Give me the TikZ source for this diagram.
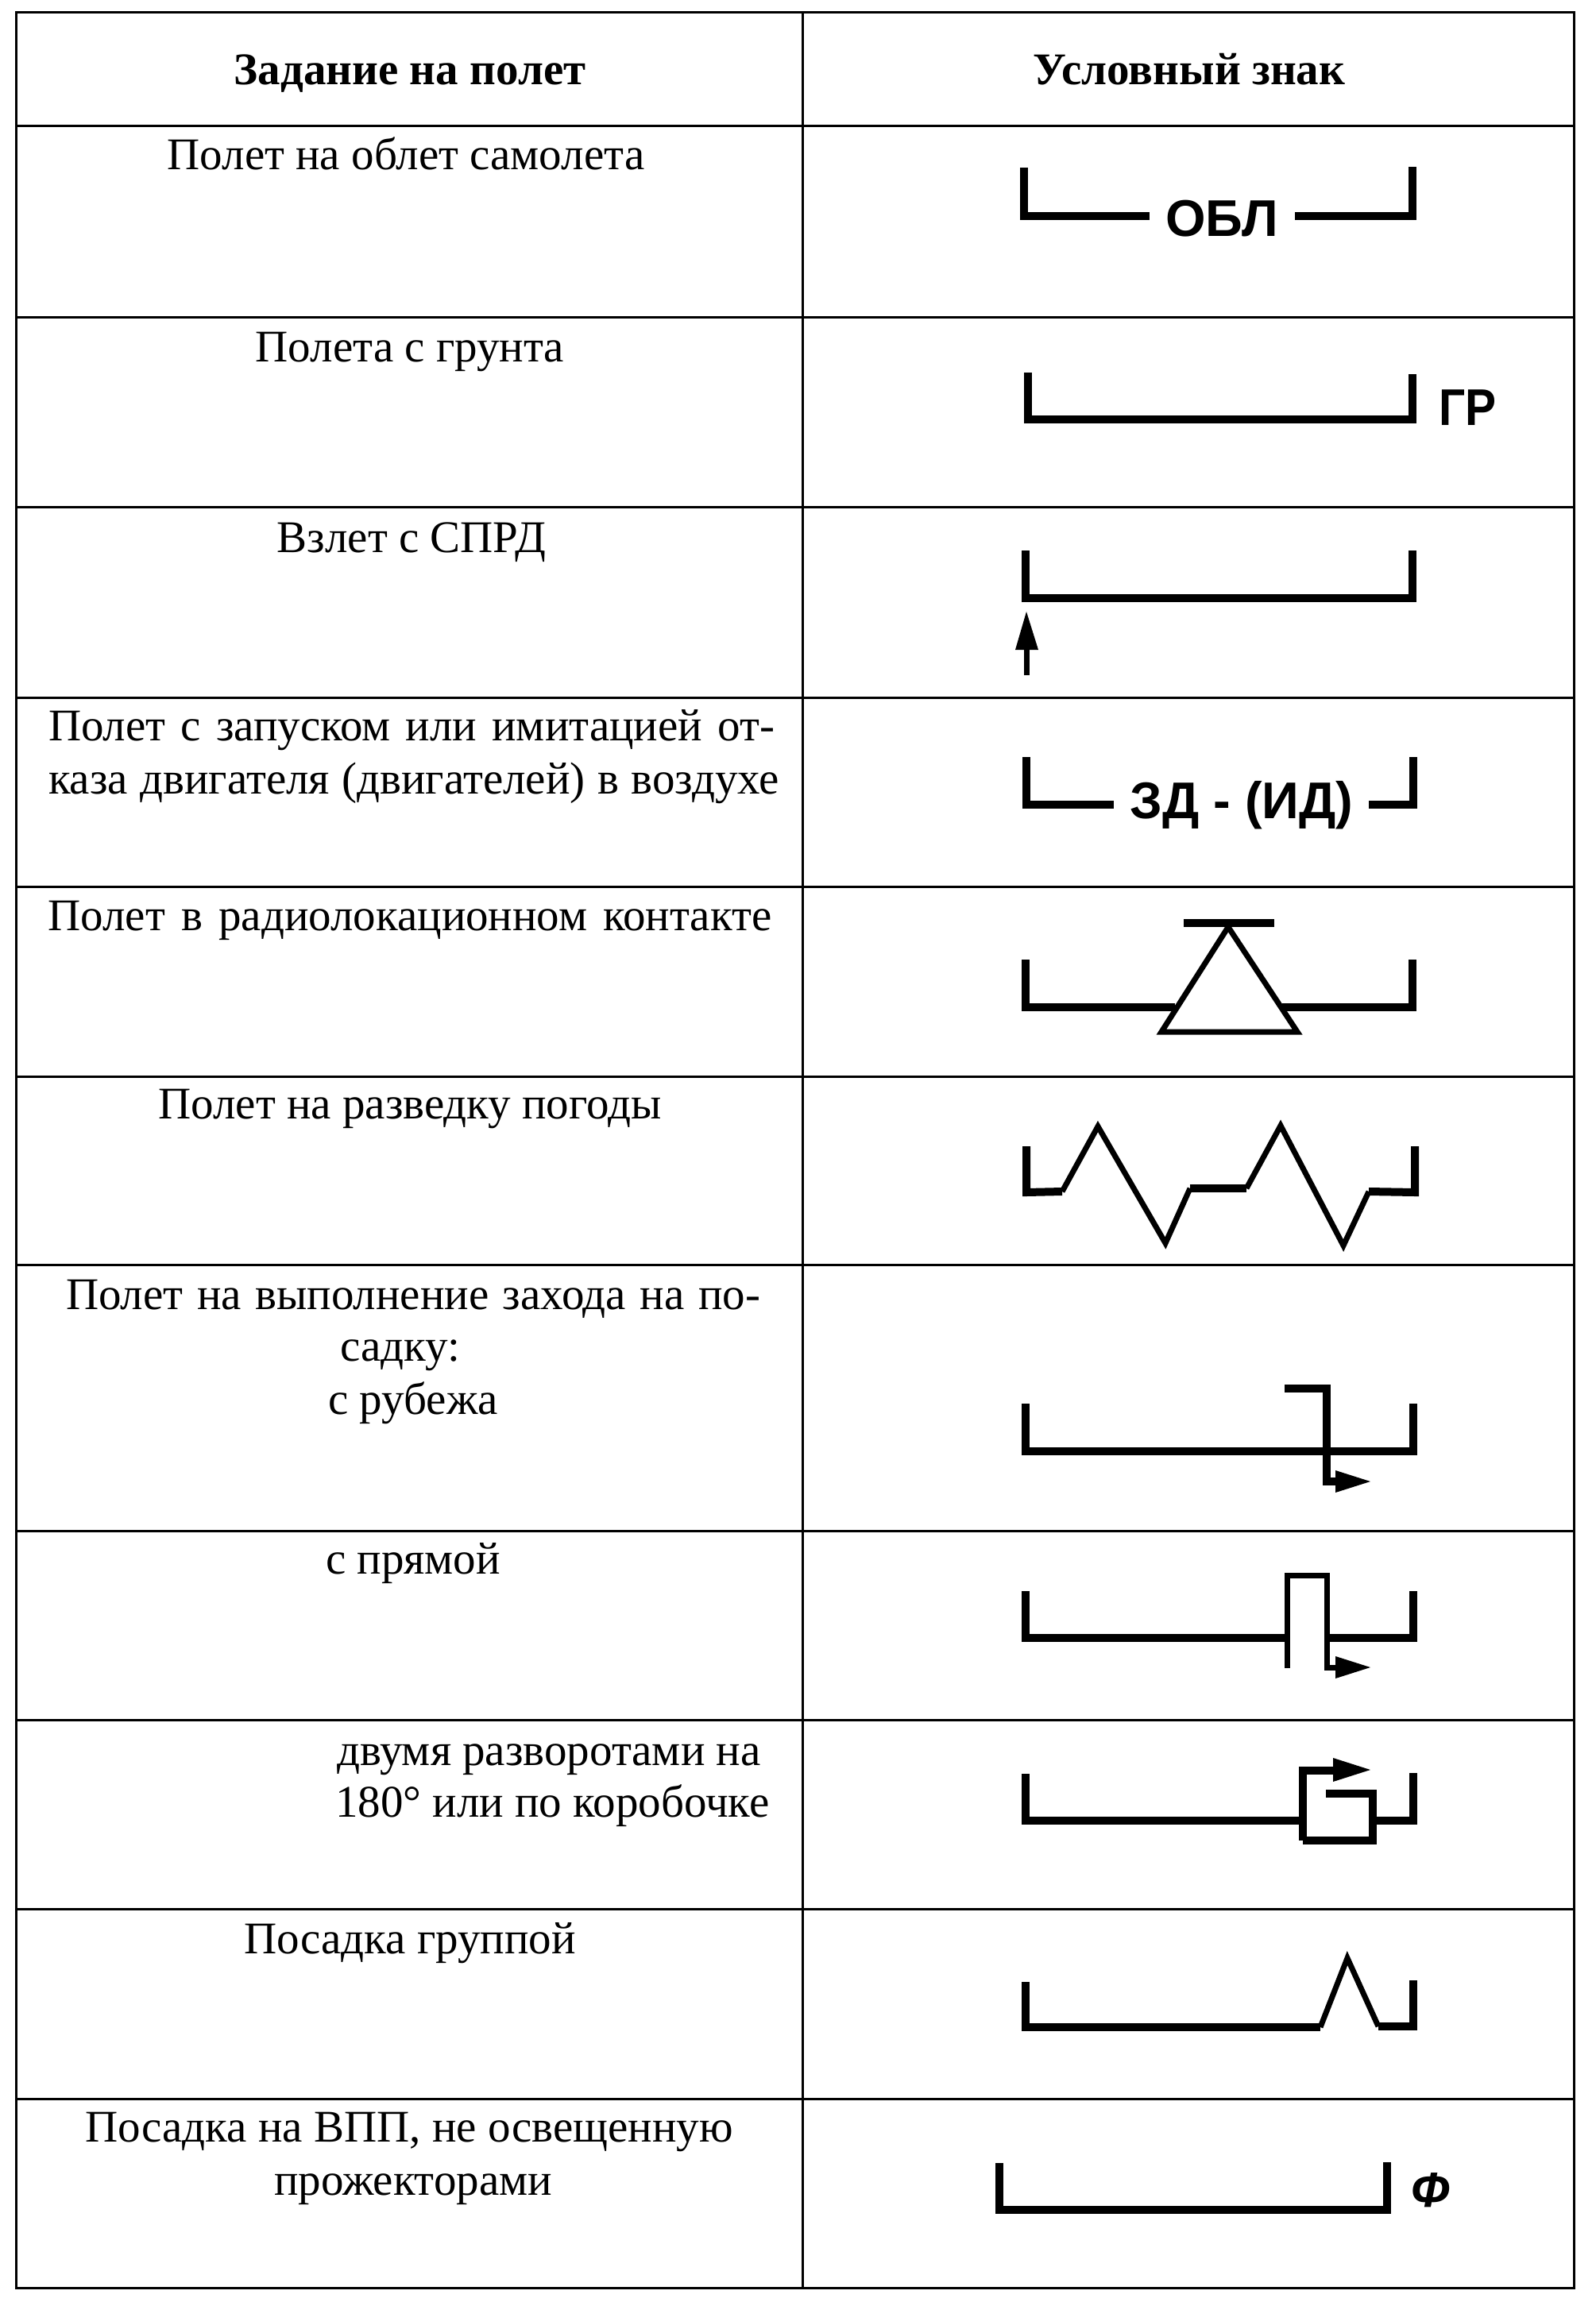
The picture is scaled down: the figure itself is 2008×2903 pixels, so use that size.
\documentclass[tikz,border=0pt]{standalone}
\usepackage{fontspec}
\usepackage{graphicx}
\setmainfont{Liberation Serif}
\newfontfamily\symsans{Liberation Sans}
\tikzset{
  gridline/.style={line width=3pt},
  symthick/.style={line width=10pt, line join=miter},
  symthin/.style={line width=7pt, line join=miter},
  symfill/.style={fill=black, draw=none},
  lbl/.style={font=\fontsize{57}{67}\selectfont, inner sep=0pt, anchor=base},
  hdr/.style={font=\fontsize{57}{67}\selectfont\bfseries, inner sep=0pt, anchor=base},
  symlbl/.style={font=\symsans\bfseries\fontsize{65}{65}\selectfont, inner sep=0pt, anchor=base}
}
\begin{document}
\begin{tikzpicture}[x=1pt,y=-1pt]
\useasboundingbox (0,0) rectangle (2008,2903);
\fill[white] (0,0) rectangle (2008,2903);
% table grid
\draw[gridline] (20,16) rectangle (1981,2880);
\draw[gridline] (1010,16) -- (1010,2880);
\foreach \yy in {159,399,638,878,1116,1355,1592,1927,2165,2403,2642}
  \draw[gridline] (20,\yy) -- (1981,\yy);
% header
\node[hdr] (h1) at (516,107) {Задание на полет};
\node[hdr] (h2) at (1497,107) {Условный знак};
% left column texts
\node[lbl] (t1) at (511,214) {Полет на облет самолета};
\node[lbl] (t2) at (516,455) {Полета с грунта};
\node[lbl] (t3) at (518,695) {Взлет с СПРД};
\node[lbl] (t4a) at (518,932) {\makebox[914pt][s]{Полет с запуском или имитацией от-}};
\node[lbl] (t4b) at (521,999) {\makebox[920pt][s]{каза двигателя (двигателей) в воздухе}};
\node[lbl] (t5) at (516,1171) {\makebox[911pt][s]{Полет в радиолокационном контакте}};
\node[lbl] (t6) at (516,1408) {Полет на разведку погоды};
\node[lbl] (t7a) at (520,1648) {\makebox[874pt][s]{Полет на выполнение захода на по-}};
\node[lbl] (t7b) at (504,1713) {садку:};
\node[lbl] (t7c) at (520,1780) {с рубежа};
\node[lbl] (t8) at (520,1981) {с прямой};
\node[lbl, anchor=base west] (t9a) at (424,2222) {двумя разворотами на};
\node[lbl, anchor=base west] (t9b) at (422,2287) {180° или по коробочке};
\node[lbl] (t10) at (516,2459) {Посадка группой};
\node[lbl] (t11a) at (515,2696) {Посадка на ВПП, не освещенную};
\node[lbl] (t11b) at (520,2763) {прожекторами};
% row 1: OBL
\draw[symthick] (1289,211) -- (1289,272) -- (1447,272);
\draw[symthick] (1630,272) -- (1778,272) -- (1778,210);
\node[symlbl] (obl) at (1538,298) {ОБЛ};
% row 2: GR
\draw[symthick] (1294,469) -- (1294,528) -- (1778,528) -- (1778,471);
\node[symlbl, anchor=base west] (gr) at (1811,535) {\scalebox{0.9}[1]{ГР}};
% row 3: take-off arrow
\draw[symthick] (1291,693) -- (1291,753) -- (1778,753) -- (1778,693);
\draw[symthin] (1292,850) -- (1292,812);
\fill[symfill] (1278,818) -- (1307,818) -- (1292,770) -- cycle;
% row 4: ZD-(ID)
\draw[symthick] (1292,953) -- (1292,1013) -- (1402,1013);
\draw[symthick] (1723,1013) -- (1779,1013) -- (1779,953);
\node[symlbl] (zd) at (1563,1030) {ЗД - (ИД)};
% row 5: radar contact
\draw[symthick] (1291,1208) -- (1291,1268) -- (1479,1268);
\draw[symthick] (1614,1268) -- (1778,1268) -- (1778,1208);
\draw[symthin] (1546,1167) -- (1462,1299) -- (1633,1299) -- cycle;
\draw[symthick] (1490,1162) -- (1604,1162);
% row 6: weather
\draw[symthick] (1292,1443) -- (1292,1501) -- (1337,1500);
\draw[symthin] (1337,1500) -- (1382,1418) -- (1467,1565) -- (1498,1496);
\draw[symthick] (1498,1496) -- (1569,1496);
\draw[symthin] (1569,1496) -- (1612,1417) -- (1691,1568) -- (1723,1500);
\draw[symthick] (1723,1500) -- (1781,1501) -- (1781,1443);
% row 7: approach from line
\draw[symthick] (1291,1767) -- (1291,1827) -- (1779,1827) -- (1779,1767);
\draw[symthick] (1617,1748) -- (1670,1748) -- (1670,1865) -- (1684,1865);
\fill[symfill] (1681,1851) -- (1681,1879) -- (1725,1865) -- cycle;
% row 8: straight-in
\draw[symthick] (1291,2003) -- (1291,2062) -- (1620,2062);
\draw[symthick] (1670,2062) -- (1779,2062) -- (1779,2003);
\draw[symthin] (1620,2100) -- (1620,1983) -- (1670,1983) -- (1670,2099) -- (1684,2099);
\fill[symfill] (1681,2085) -- (1681,2113) -- (1725,2099) -- cycle;
% row 9: two 180 turns / box
\draw[symthick] (1291,2233) -- (1291,2292) -- (1640,2292);
\draw[symthick] (1728,2292) -- (1779,2292) -- (1779,2232);
\draw[symthick] (1640,2317) -- (1640,2229) -- (1681,2229);
\fill[symfill] (1678,2213) -- (1678,2243) -- (1725,2228) -- cycle;
\draw[symthick] (1669,2258) -- (1728,2258) -- (1728,2317) -- (1640,2317);
% row 10: group landing
\draw[symthick] (1291,2495) -- (1291,2552) -- (1662,2552);
\draw[symthin] (1662,2552) -- (1696,2465) -- (1735,2551);
\draw[symthick] (1735,2551) -- (1779,2551) -- (1779,2493);
% row 11: unlit runway
\draw[symthick] (1258,2723) -- (1258,2782) -- (1746,2782) -- (1746,2722);
\node[font=\symsans\bfseries\itshape\fontsize{62}{62}\selectfont, inner sep=0pt, anchor=base west] (phi) at (1776,2778) {Ф};
\end{tikzpicture}
\end{document}
